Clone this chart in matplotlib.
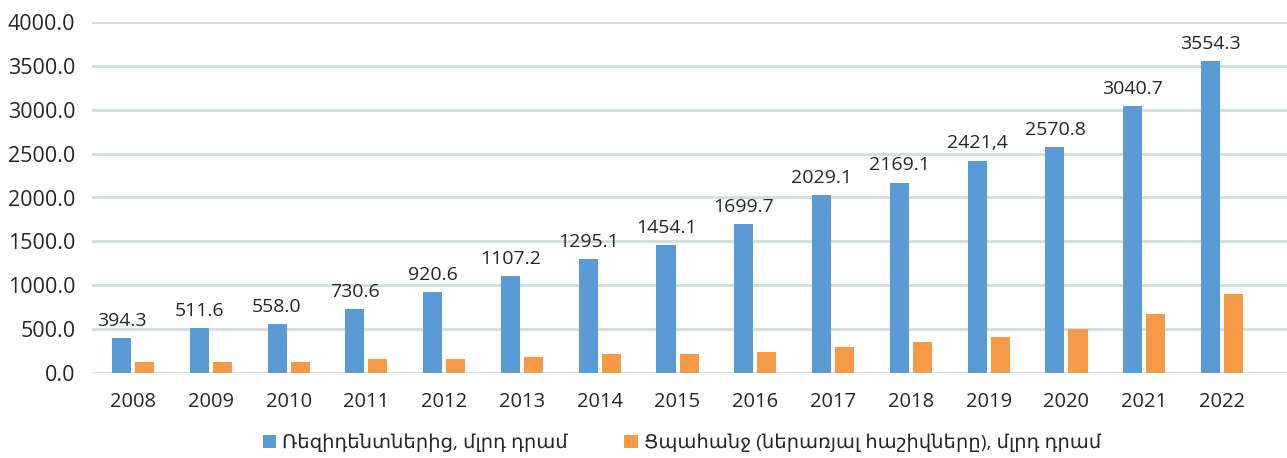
import matplotlib
matplotlib.use("Agg")
import matplotlib.pyplot as plt
import numpy as np

years = ["2008", "2009", "2010", "2011", "2012", "2013", "2014", "2015",
         "2016", "2017", "2018", "2019", "2020", "2021", "2022"]
residents = [394.3, 511.6, 558.0, 730.6, 920.6, 1107.2, 1295.1, 1454.1,
             1699.7, 2029.1, 2169.1, 2421.4, 2570.8, 3040.7, 3554.3]
resident_labels = ["394.3", "511.6", "558.0", "730.6", "920.6", "1107.2", "1295.1", "1454.1",
                   "1699.7", "2029.1", "2169.1", "2421,4", "2570.8", "3040.7", "3554.3"]
demand = [125, 125, 125, 160, 160, 182, 216, 216, 240, 296, 353, 410, 501, 672, 900]
series_names = ["Ռեզիդենտներից, մլրդ դրամ",
                "Ցպահանջ (ներառյալ հաշիվները), մլրդ դրամ"]
yticks = [0, 500, 1000, 1500, 2000, 2500, 3000, 3500, 4000]

plt.rcParams['font.family'] = ['Open Sans', 'DejaVu Sans']

fig = plt.figure(figsize=(12.87, 4.58), dpi=100)
ax = fig.add_axes([92/1287, (458-373)/458, 1 - 92/1287, (373-22)/458])

blue = "#5B9BD5"
orange = "#F79A46"
x = np.arange(len(years))
w = 0.245
off = 0.148
b1 = ax.bar(x - off, residents, w, color=blue, label=series_names[0], zorder=3)
b2 = ax.bar(x + off, demand, w, color=orange, label=series_names[1], zorder=3)

for xi, v, lab in zip(x, residents, resident_labels):
    ax.annotate(lab, (xi - off, v), xytext=(0, 6), textcoords="offset points",
                ha="center", va="bottom", fontsize=14, color="#262626")

ax.set_ylim(0, 4000)
ax.set_xlim(-0.527, 14.835)
ax.set_yticks(yticks)
ax.set_yticklabels([f"{t:.1f}" for t in yticks], fontsize=15.5, color="#262626")
ax.set_xticks(x)
ax.set_xticklabels(years, fontsize=14.5, color="#262626")
ax.tick_params(axis="both", length=0)
ax.tick_params(axis="y", pad=12)
ax.tick_params(axis="x", pad=14)
for s in ax.spines.values():
    s.set_visible(False)
ax.grid(axis="y", color="#D5DFDF", linewidth=2.2, zorder=0)
ax.set_axisbelow(True)

fig.legend(handles=[b1, b2], labels=series_names, loc="center",
           bbox_to_anchor=(682/1287, 1 - 443/458), ncol=2, frameon=False,
           fontsize=14, handlelength=0.7, handleheight=0.7, handletextpad=0.3,
           columnspacing=2.9, labelcolor="#262626")

fig.savefig("out.png", dpi=100)
